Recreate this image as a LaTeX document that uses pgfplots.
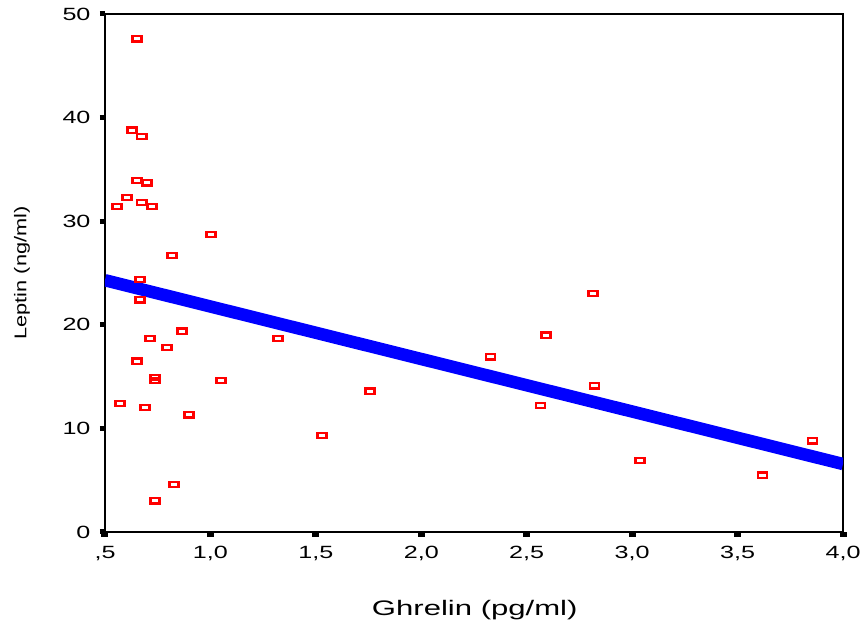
\documentclass[border=0pt]{standalone}
\usepackage{fontspec}
\setmainfont{Liberation Sans}
\usepackage{pgfplots}
\pgfplotsset{compat=1.18}
\newcommand\wide[1]{\scalebox{1.42}[1]{#1}}
\pgfdeclareplotmark{rect}{%
  \pgfpathrectangle{\pgfpoint{-4.5pt}{-2.6pt}}{\pgfpoint{9pt}{5.2pt}}%
  \pgfusepathqstroke}
\begin{document}
\begin{tikzpicture}
\useasboundingbox (-105pt,-96pt) rectangle (759pt,532pt);
\begin{axis}[
  scale only axis,
  width=738pt, height=518pt,
  xmin=0.5, xmax=4.0, ymin=0, ymax=50,
  axis line style={line width=2.6pt, black},
  tick align=outside,
  xtick pos=left, ytick pos=left,
  major tick length=5pt,
  xtick={0.5,1.0,1.5,2.0,2.5,3.0,3.5,4.0},
  xticklabels={\wide{,5},\wide{1,0},\wide{1,5},\wide{2,0},\wide{2,5},\wide{3,0},\wide{3,5},\wide{4,0}},
  ytick={0,10,20,30,40,50},
  yticklabels={\wide{0},\wide{10},\wide{20},\wide{30},\wide{40},\wide{50}},
  xtick style={line width=7pt, black},
  ytick style={line width=5pt, black},
  ticklabel style={font=\fontsize{17.7}{20}\selectfont},
  xticklabel style={yshift=-6pt},
  yticklabel style={xshift=-6pt},
  xlabel={\fontsize{21}{24}\selectfont\scalebox{1.48}[1]{Ghrelin (pg/ml)}},
  xlabel style={at={(axis description cs:0.501,-0.150)}, anchor=center},
  ylabel={\fontsize{17}{20}\selectfont\scalebox{1.28}[1]{Leptin (ng/ml)}},
  ylabel style={at={(axis description cs:-0.1125,0.5)}, anchor=center},
]
\addplot[blue, line width=12.5pt, line cap=butt] coordinates {(0.5,24.3) (4.0,6.56)};
\addplot[only marks, mark=rect, red, mark options={line width=2.2pt}] coordinates {
(0.652,47.6) (0.628,38.8) (0.675,38.2) (0.652,33.9) (0.699,33.7)
(0.604,32.3) (0.557,31.4) (0.675,31.8) (0.723,31.4) (1.003,28.7)
(0.818,26.7) (0.666,24.4) (0.666,22.4) (0.713,18.7) (0.865,19.4)
(0.794,17.8) (0.652,16.5) (0.737,14.9) (0.737,14.6) (1.050,14.6)
(0.571,12.4) (0.690,12.0) (0.898,11.3) (0.827,4.6) (0.737,3.0)
(1.320,18.7) (1.529,9.3) (1.757,13.6) (2.330,16.9) (2.591,19.0)
(2.814,23.0) (2.823,14.1) (2.567,12.2) (3.037,6.9) (3.620,5.5)
(3.857,8.8)
};
\end{axis}
\end{tikzpicture}
\end{document}
